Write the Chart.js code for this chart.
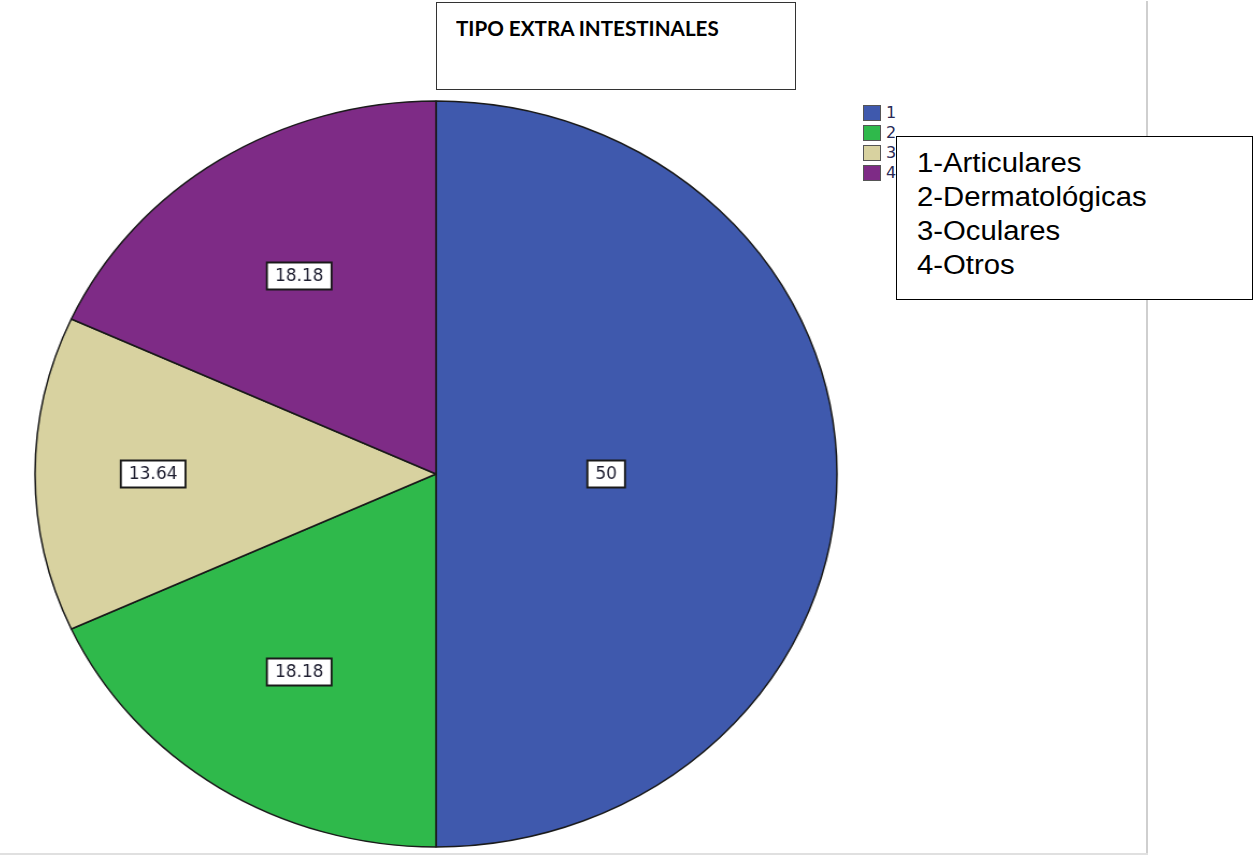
<!DOCTYPE html>
<html>
<head>
<meta charset="utf-8">
<script src="https://cdn.jsdelivr.net/npm/chart.js@4.4.1/dist/chart.umd.min.js"></script>
<style>
  body { margin: 0; background: #fff; width: 1254px; height: 856px; overflow: hidden; position: relative; font-family: "Liberation Sans", Arial, sans-serif; }
  #pie { position: absolute; left: 56px; top: 94px; transform: scaleX(1.075); transform-origin: 380px 380px; }
  .frameV { position: absolute; left: 1146px; top: 1px; width: 2px; height: 853px; background: #cfcfcf; }
  .frameH { position: absolute; left: 0; top: 853px; width: 1148px; height: 2px; background: #e0e0e0; }
  .titlebox { position: absolute; left: 436px; top: 2px; width: 358px; height: 86px; border: 1.5px solid #333; background: #fff; }
  .titlebox span { position: absolute; left: 19px; top: 13px; font: bold 20px Lato, "Open Sans", sans-serif; color: #000; white-space: nowrap; transform: scaleX(1.03); transform-origin: 0 0; }
  .legend { position: absolute; left: 863px; top: 105px; }
  .legend div { position: relative; height: 20px; }
  .legend i { position: absolute; left: 0; top: 0; width: 18px; height: 16px; border: 1px solid #555; box-sizing: border-box; }
  .legend b { position: absolute; left: 23px; top: -2px; font: 16px "DejaVu Sans", sans-serif; font-weight: normal; color: #2a2a55; }
  .namebox { position: absolute; left: 896px; top: 136px; width: 355px; height: 162px; border: 1.5px solid #000; background: #fff; }
  .namebox div { position: absolute; left: 20px; font: 27px "Liberation Sans", Arial, sans-serif; color: #000; white-space: nowrap; transform: scaleX(1.085); transform-origin: 0 0; }
</style>
</head>
<body>
<div class="frameV"></div>
<div class="frameH"></div>
<canvas id="pie" width="760" height="760"></canvas>
<div class="titlebox"><span id="title"></span></div>
<div class="legend" id="legend"></div>
<div class="namebox" id="names"></div>
<script>
const title = "TIPO EXTRA INTESTINALES";
const categories = ["1", "2", "3", "4"];
const categoryNames = ["1-Articulares", "2-Dermatológicas", "3-Oculares", "4-Otros"];
const percents = [50, 18.18, 13.64, 18.18];
const colors = ["#3f59ad", "#2fb94b", "#d8d2a0", "#7e2b86"];
const stretchX = 1.075;

document.getElementById('title').textContent = title;

let legendHtml = "";
categories.forEach((c, i) => {
    legendHtml += `<div><i style="background:${colors[i]}"></i><b>${c}</b></div>`;
});
document.getElementById('legend').innerHTML = legendHtml;

let namesHtml = "";
categoryNames.forEach((n, i) => {
    namesHtml += `<div style="top:${11 + i * 34}px">${n}</div>`;
});
document.getElementById('names').innerHTML = namesHtml;

// value labels drawn near the centroid of each slice, un-stretched so text stays normal
const sliceLabels = {
    id: 'sliceLabels',
    afterDatasetsDraw(chart) {
        const ctx = chart.ctx;
        const meta = chart.getDatasetMeta(0);
        meta.data.forEach((arc, i) => {
            const p = arc.getProps(['x', 'y', 'startAngle', 'endAngle', 'outerRadius'], true);
            const half = (p.endAngle - p.startAngle) / 2;
            const mid = p.startAngle + half;
            const d = 2 * p.outerRadius * Math.sin(half) / (3 * half) + (half < 0.5 ? 22 : 0);
            const x = p.x + Math.cos(mid) * d;
            const y = p.y + Math.sin(mid) * d;
            const txt = String(percents[i]);
            ctx.save();
            ctx.translate(x, y);
            ctx.scale(1 / stretchX, 1);
            ctx.font = '17px "DejaVu Sans"';
            const w = ctx.measureText(txt).width + 16;
            const h = 27;
            ctx.fillStyle = '#fff';
            ctx.fillRect(-w / 2, -h / 2, w, h);
            ctx.strokeStyle = '#1a1a1a';
            ctx.lineWidth = 2;
            ctx.strokeRect(-w / 2, -h / 2, w, h);
            ctx.fillStyle = '#1e1e30';
            ctx.textAlign = 'center';
            ctx.textBaseline = 'middle';
            ctx.fillText(txt, 0, 1);
            ctx.restore();
        });
    }
};

new Chart(document.getElementById('pie'), {
    type: 'pie',
    data: {
        labels: categories,
        datasets: [{
            data: percents,
            backgroundColor: colors,
            borderColor: '#1a1a1a',
            borderWidth: 1.5
        }]
    },
    options: {
        responsive: false,
        animation: false,
        radius: 373,
        layout: { padding: 0 },
        plugins: {
            legend: { display: false },
            tooltip: { enabled: false }
        }
    },
    plugins: [sliceLabels]
});
</script>
</body>
</html>
